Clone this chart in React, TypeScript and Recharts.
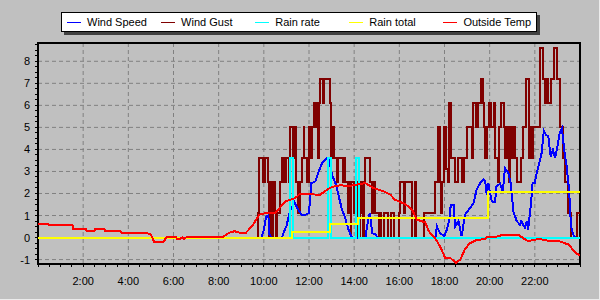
import { CartesianGrid, Line, LineChart, ReferenceArea, XAxis, YAxis } from 'recharts';

// hours of day (0..24) and readings
const seriesNames = ['Wind Speed', 'Wind Gust', 'Rain rate', 'Rain total', 'Outside Temp'];
const seriesColors = ['#0000ff', '#800000', '#00ffff', '#ffff00', '#ff0000'];

const labelHours = [2, 4, 6, 8, 10, 12, 14, 16, 18, 20, 22];
const hourLabels = ['2:00', '4:00', '6:00', '8:00', '10:00', '12:00', '14:00', '16:00', '18:00', '20:00', '22:00'];
const yLabels = [-1, 0, 1, 2, 3, 4, 5, 6, 7, 8];

const speedHours = [
    0, 9.9, 10.0, 10.1, 10.2, 10.25, 10.34, 10.8, 10.9, 11.0,
    11.1, 11.2, 11.35, 11.5, 11.68, 11.85, 12.0, 12.1, 12.28, 12.43,
    12.58, 12.77, 12.87, 13.02, 13.17, 13.3, 13.46, 13.6, 13.75, 13.9,
    14.5, 14.57, 14.69, 14.8, 14.94, 15.05, 17.6, 17.66, 17.8, 18.0,
    18.1, 18.2, 18.28, 18.4, 18.47, 18.62, 18.76, 18.91, 19.13, 19.28,
    19.43, 19.58, 19.72, 19.8, 19.87, 19.94, 20.09, 20.24, 20.3, 20.46,
    20.58, 20.68, 20.83, 20.93, 21.0, 21.05, 21.2, 21.34, 21.4, 21.56,
    21.64, 21.7, 21.82, 21.9, 22.0, 22.08, 22.2, 22.3, 22.4, 22.5,
    22.6, 22.7, 22.8, 22.9, 23.0, 23.1, 23.2, 23.3, 23.4, 23.5,
    23.55, 23.6, 23.7, 23.8, 24,
];
const speedValues = [
    0, 0, 0.36, 0.96, 1.0, 0.14, 0, 0, 0.29, 0.51,
    0.96, 1.3, 1.6, 1.3, 1.04, 1.04, 1.12, 2.47, 2.55, 3.0,
    3.38, 3.6, 3.6, 2.85, 2.47, 1.95, 1.27, 0.89, 0.36, 0,
    0, 0.51, 1.12, 0.2, 0.14, 0, 0, 0.51, 0.21, 0.06,
    0.36, 0.74, 1.49, 1.49, 0.51, 0.74, 0.06, 1.04, 1.34, 1.55,
    2.2, 2.47, 2.65, 2.55, 1.95, 2.47, 1.64, 1.6, 2.32, 2.44,
    2.1, 3.15, 2.93, 2.47, 1.72, 1.19, 0.74, 0.59, 0.74, 0.44,
    0.74, 0.36, 1.42, 2.47, 2.47, 2.93, 3.38, 3.83, 4.84, 4.66,
    4.58, 3.68, 3.98, 3.6, 4.13, 4.74, 4.96, 3.98, 3.3, 2.32,
    1.57, 0.51, 0.14, 0, 0,
];

const gustHours = [
    0, 9.74, 9.8, 9.97, 10.07, 10.18, 10.24, 10.28, 10.36, 10.4,
    10.48, 10.56, 10.6, 10.7, 10.8, 10.9, 11.0, 11.1, 11.18, 11.3,
    11.35, 11.42, 11.52, 11.6, 11.68, 11.76, 11.8, 11.92, 11.99, 12.09,
    12.12, 12.21, 12.3, 12.36, 12.42, 12.46, 12.5, 12.6, 12.65, 12.92,
    12.97, 13.02, 13.1, 13.22, 13.28, 13.5, 13.55, 13.61, 13.72, 13.76,
    13.85, 13.88, 13.98, 14.05, 14.12, 14.27, 14.33, 14.38, 14.42, 14.49,
    14.72, 14.8, 14.85, 14.94, 15.08, 15.15, 15.2, 15.3, 15.48, 15.64,
    15.78, 15.97, 16.04, 16.2, 16.25, 16.56, 16.68, 16.75, 17.1, 17.59,
    17.7, 17.78, 17.85, 17.9, 17.96, 18.05, 18.15, 18.22, 18.3, 18.47,
    18.6, 18.77, 18.85, 19.0, 19.2, 19.28, 19.4, 19.5, 19.6, 19.7,
    19.75, 19.8, 19.9, 19.98, 20.08, 20.18, 20.25, 20.35, 20.42, 20.5,
    20.62, 20.7, 20.75, 20.85, 20.9, 20.98, 21.05, 21.1, 21.2, 21.4,
    21.48, 21.6, 21.72, 21.78, 21.85, 21.92, 22.25, 22.38, 22.45, 22.52,
    22.6, 22.7, 22.85, 23.0, 23.1, 23.25, 23.35, 23.45, 23.6, 23.85,
    24,
];
const gustValues = [
    0, 1.1, 3.6, 2.5, 3.6, 2.5, 0, 2.5, 0, 2.5,
    1.1, 0, 1.1, 2.5, 3.6, 2.5, 3.6, 2.5, 5.0, 3.6,
    5.0, 2.5, 1.1, 2.5, 3.6, 5.0, 3.6, 2.5, 5.0, 3.6,
    5.0, 6.1, 5.0, 6.1, 3.6, 6.1, 7.2, 6.1, 7.2, 6.1,
    3.6, 5.0, 3.6, 2.5, 3.6, 2.5, 3.6, 2.5, 1.1, 2.5,
    0, 2.5, 1.1, 2.5, 0, 2.5, 1.1, 0, 2.5, 3.6,
    2.5, 1.1, 2.5, 1.1, 0, 1.1, 0, 1.1, 0, 1.1,
    0, 1.1, 2.5, 1.1, 2.5, 0, 2.5, 0, 1.1, 2.5,
    5.0, 2.5, 1.1, 2.5, 5.0, 3.1, 2.5, 6.1, 3.6, 2.5,
    3.6, 2.5, 3.6, 5.0, 3.6, 6.1, 5.0, 6.1, 7.2, 6.1,
    5.0, 3.6, 5.0, 6.1, 5.0, 6.1, 3.6, 2.5, 5.0, 6.1,
    5.0, 3.6, 5.0, 2.5, 5.0, 3.6, 5.0, 3.6, 2.5, 3.6,
    5.0, 7.2, 3.6, 5.0, 3.6, 5.0, 8.6, 7.2, 6.1, 7.2,
    6.1, 7.2, 8.6, 7.2, 5.0, 3.6, 2.5, 1.1, 0, 1.1,
    1.1,
];

const rateHours = [0, 11.18, 11.3, 12.86, 12.97, 14.1, 14.22, 24];
const rateValues = [0, 3.6, 0, 3.6, 0, 3.6, 0, 0];

const totalHours = [0, 11.25, 12.92, 14.17, 19.94, 24];
const totalValues = [0, 0.27, 0.62, 0.87, 2.08, 2.08];

const tempHours = [
    0, 0.45, 0.47, 1.53, 1.55, 2.12, 2.15, 2.5, 2.53, 2.95,
    2.98, 3.65, 3.7, 4.8, 5.0, 5.15, 5.55, 5.7, 6.1, 6.15,
    6.3, 6.4, 6.45, 6.6, 8.2, 8.35, 8.45, 8.7, 8.97, 9.2,
    9.5, 9.8, 10.0, 10.5, 10.96, 11.4, 11.6, 11.85, 12.3, 12.5,
    12.8, 13.0, 13.4, 13.7, 14.1, 14.5, 14.86, 15.3, 15.6, 15.8,
    16.26, 16.56, 16.78, 17.15, 17.3, 17.6, 17.8, 18.03, 18.25, 18.5,
    18.7, 18.9, 19.1, 19.4, 19.8, 19.87, 20.46, 20.5, 21.3, 21.7,
    21.9, 22.2, 22.7, 23.1, 23.5, 23.8, 24,
];
const tempValues = [
    0.63, 0.63, 0.55, 0.55, 0.39, 0.39, 0.29, 0.29, 0.38, 0.38,
    0.29, 0.29, 0.21, 0.21, 0.14, -0.21, -0.21, 0.03, 0.03, -0.06,
    -0.06, 0.02, -0.06, 0.03, 0.03, 0.14, 0.21, 0.29, 0.21, 0.21,
    0.55, 1.04, 1.09, 1.12, 1.64, 1.8, 1.99, 1.98, 1.95, 1.95,
    2.17, 2.29, 2.38, 2.32, 2.4, 2.47, 2.25, 2.1, 1.95, 1.72,
    1.52, 1.27, 0.81, 0.69, 0.29, -0.06, -0.39, -0.92, -0.92, -1.15,
    -1.0, -0.54, -0.27, -0.12, -0.06, 0.01, 0.06, 0.1, 0.1, -0.17,
    -0.12, -0.06, -0.17, -0.17, -0.32, -0.69, -0.81,
];

const toPoints = (hours: number[], values: number[]) => hours.map((h, i) => ({ h, v: values[i] }));

const speedData = toPoints(speedHours, speedValues);
const gustData = toPoints(gustHours, gustValues);
const rateData = toPoints(rateHours, rateValues);
const totalData = toPoints(totalHours, totalValues);
const tempData = toPoints(tempHours, tempValues);

// minor ticks every half hour / quarter unit
const hourTicks: number[] = [];
for (let h = 0; h <= 24; h += 0.5) hourTicks.push(h);
const valueTicks: number[] = [];
for (let v = -1; v <= 8.75; v += 0.25) valueTicks.push(Math.round(v * 100) / 100);

const FONT = '"Liberation Sans", Arial, sans-serif';

function HourTick({ x, y, payload }: any) {
    const idx = labelHours.indexOf(payload.value);
    return (
        <g>
            <line x1={x} x2={x} y1={y} y2={y + 3} stroke="#000" shapeRendering="crispEdges" />
            {idx >= 0 && (
                <text x={x} y={y + 21} textAnchor="middle" fontSize={11} fontFamily={FONT} fill="#000">
                    {hourLabels[idx]}
                </text>
            )}
        </g>
    );
}

function ValueTick({ x, y, payload }: any) {
    const isLabel = yLabels.includes(payload.value);
    return (
        <g>
            <line x1={x} x2={x - 3} y1={y} y2={y} stroke="#000" shapeRendering="crispEdges" />
            {isLabel && (
                <text x={x - 8} y={y + 4} textAnchor="end" fontSize={11} fontFamily={FONT} fill="#000">
                    {payload.value}
                </text>
            )}
        </g>
    );
}

function ChartLegend() {
    return (
        <div
            style={{
                position: 'absolute',
                left: 61,
                top: 12,
                width: 476,
                height: 20,
                boxSizing: 'border-box',
                background: '#fff',
                border: '1px solid #000',
                boxShadow: '3px 3px 0 #404040',
                fontFamily: FONT,
                fontSize: 11,
                color: '#000',
            }}
        >
            {seriesNames.map((name, i) => (
                <div
                    key={name}
                    style={{
                        position: 'absolute',
                        left: 5 + i * 94.1,
                        top: 0,
                        height: '100%',
                        display: 'flex',
                        alignItems: 'center',
                        whiteSpace: 'nowrap',
                    }}
                >
                    <span style={{ display: 'inline-block', width: 14, height: 1, background: seriesColors[i] }} />
                    <span style={{ marginLeft: 6 }}>{name}</span>
                </div>
            ))}
        </div>
    );
}

export default function App() {
    const lineProps = { dataKey: 'v', strokeWidth: 2, dot: false, activeDot: false, isAnimationActive: false, shapeRendering: 'crispEdges' } as const;
    return (
        <div
            style={{
                position: 'absolute',
                left: 0,
                top: 0,
                width: 600,
                height: 300,
                background: '#c0c0c0',
                boxSizing: 'border-box',
                borderRight: '1px solid #ececec',
                borderBottom: '1px solid #ececec',
                overflow: 'hidden',
            }}
        >
            <LineChart width={600} height={300} margin={{ top: 43, right: 20, bottom: 0, left: 0 }}>
                <CartesianGrid
                    stroke="#808080"
                    strokeDasharray="4 3"
                    horizontalValues={yLabels}
                    verticalValues={labelHours}
                />
                <XAxis
                    dataKey="h"
                    type="number"
                    domain={[0, 24]}
                    ticks={hourTicks}
                    interval={0}
                    tick={(p: any) => <HourTick {...p} />}
                    tickLine={false}
                    axisLine={false}
                    tickSize={0}
                    tickMargin={0}
                    height={36}
                    allowDataOverflow
                />
                <YAxis
                    type="number"
                    domain={[-1.2, 8.83]}
                    ticks={valueTicks}
                    interval={0}
                    tick={(p: any) => <ValueTick {...p} />}
                    tickLine={false}
                    axisLine={false}
                    tickSize={0}
                    tickMargin={0}
                    width={38}
                    allowDataOverflow
                />
                <Line {...lineProps} data={gustData} type="stepAfter" stroke={seriesColors[1]} />
                <Line {...lineProps} data={speedData} type="linear" stroke={seriesColors[0]} />
                <Line {...lineProps} data={rateData} type="stepAfter" stroke={seriesColors[2]} />
                <Line {...lineProps} data={totalData} type="stepAfter" stroke={seriesColors[3]} />
                <Line {...lineProps} data={tempData} type="linear" stroke={seriesColors[4]} />
                <ReferenceArea x1={0} x2={24} y1={-1.2} y2={8.83} fill="none" stroke="#000" strokeWidth={2} ifOverflow="visible" shapeRendering="crispEdges" />
            </LineChart>
            <ChartLegend />
        </div>
    );
}
